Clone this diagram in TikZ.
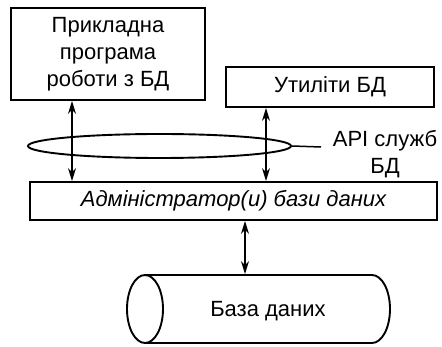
\documentclass[tikz,border=0pt]{standalone}
\usepackage{fontspec}
\setmainfont{Liberation Sans}
\usetikzlibrary{shapes.geometric,arrows.meta}
\begin{document}
\begin{tikzpicture}[x=1pt,y=-1pt,
  line width=1.9pt,
  font=\fontsize{22}{27}\selectfont,
  box/.style={draw,rectangle,inner sep=0pt,align=center},
  link/.style={{Stealth[length=13pt,width=8pt]}-{Stealth[length=13pt,width=8pt]},line width=1.6pt}]
\useasboundingbox (0,0) rectangle (442,347);
% upper blocks
\node[box,minimum width=194pt,minimum height=92pt] (app) at (108,54)
  {Прикладна\\програма\\роботи з БД};
\node[box,minimum width=208pt,minimum height=40pt] (util) at (330,87) {Утиліти БД};
% database administrator layer
\node[box,minimum width=407pt,minimum height=38pt,font=\fontsize{22}{27}\selectfont\itshape]
  (adm) at (233.5,201) {Адміністратор(и) бази даних};
% database itself: a horizontal cylinder, open face on the left
\node[inner sep=0pt,minimum width=263pt,minimum height=68pt] (db) at (258.5,309) {};
\draw (145,275) -- (372,275) arc[start angle=-90,end angle=90,x radius=18,y radius=34]
  -- (145,343);
\draw (145,309) ellipse[x radius=18,y radius=34];
\node (dbtext) at (268,311) {База даних};
% service API ring with its label
\node[draw,ellipse,minimum width=263pt,minimum height=24pt,inner sep=0pt] (api) at (159.5,146) {};
\node[align=center,inner sep=0pt] (apilabel) at (385,154) {API служб\\БД};
\coordinate (leadend) at (321,147);
\draw[line width=1.5pt] (api.east) -- (leadend);
% connectors
\coordinate (c1) at (72,0);
\coordinate (c2) at (266,0);
\coordinate (c3) at (245,0);
\draw[link] (app.south -| c1) -- (adm.north -| c1);
\draw[link] (util.south -| c2) -- (adm.north -| c2);
\draw[link] (adm.south -| c3) -- (db.north -| c3);
\end{tikzpicture}
\end{document}
